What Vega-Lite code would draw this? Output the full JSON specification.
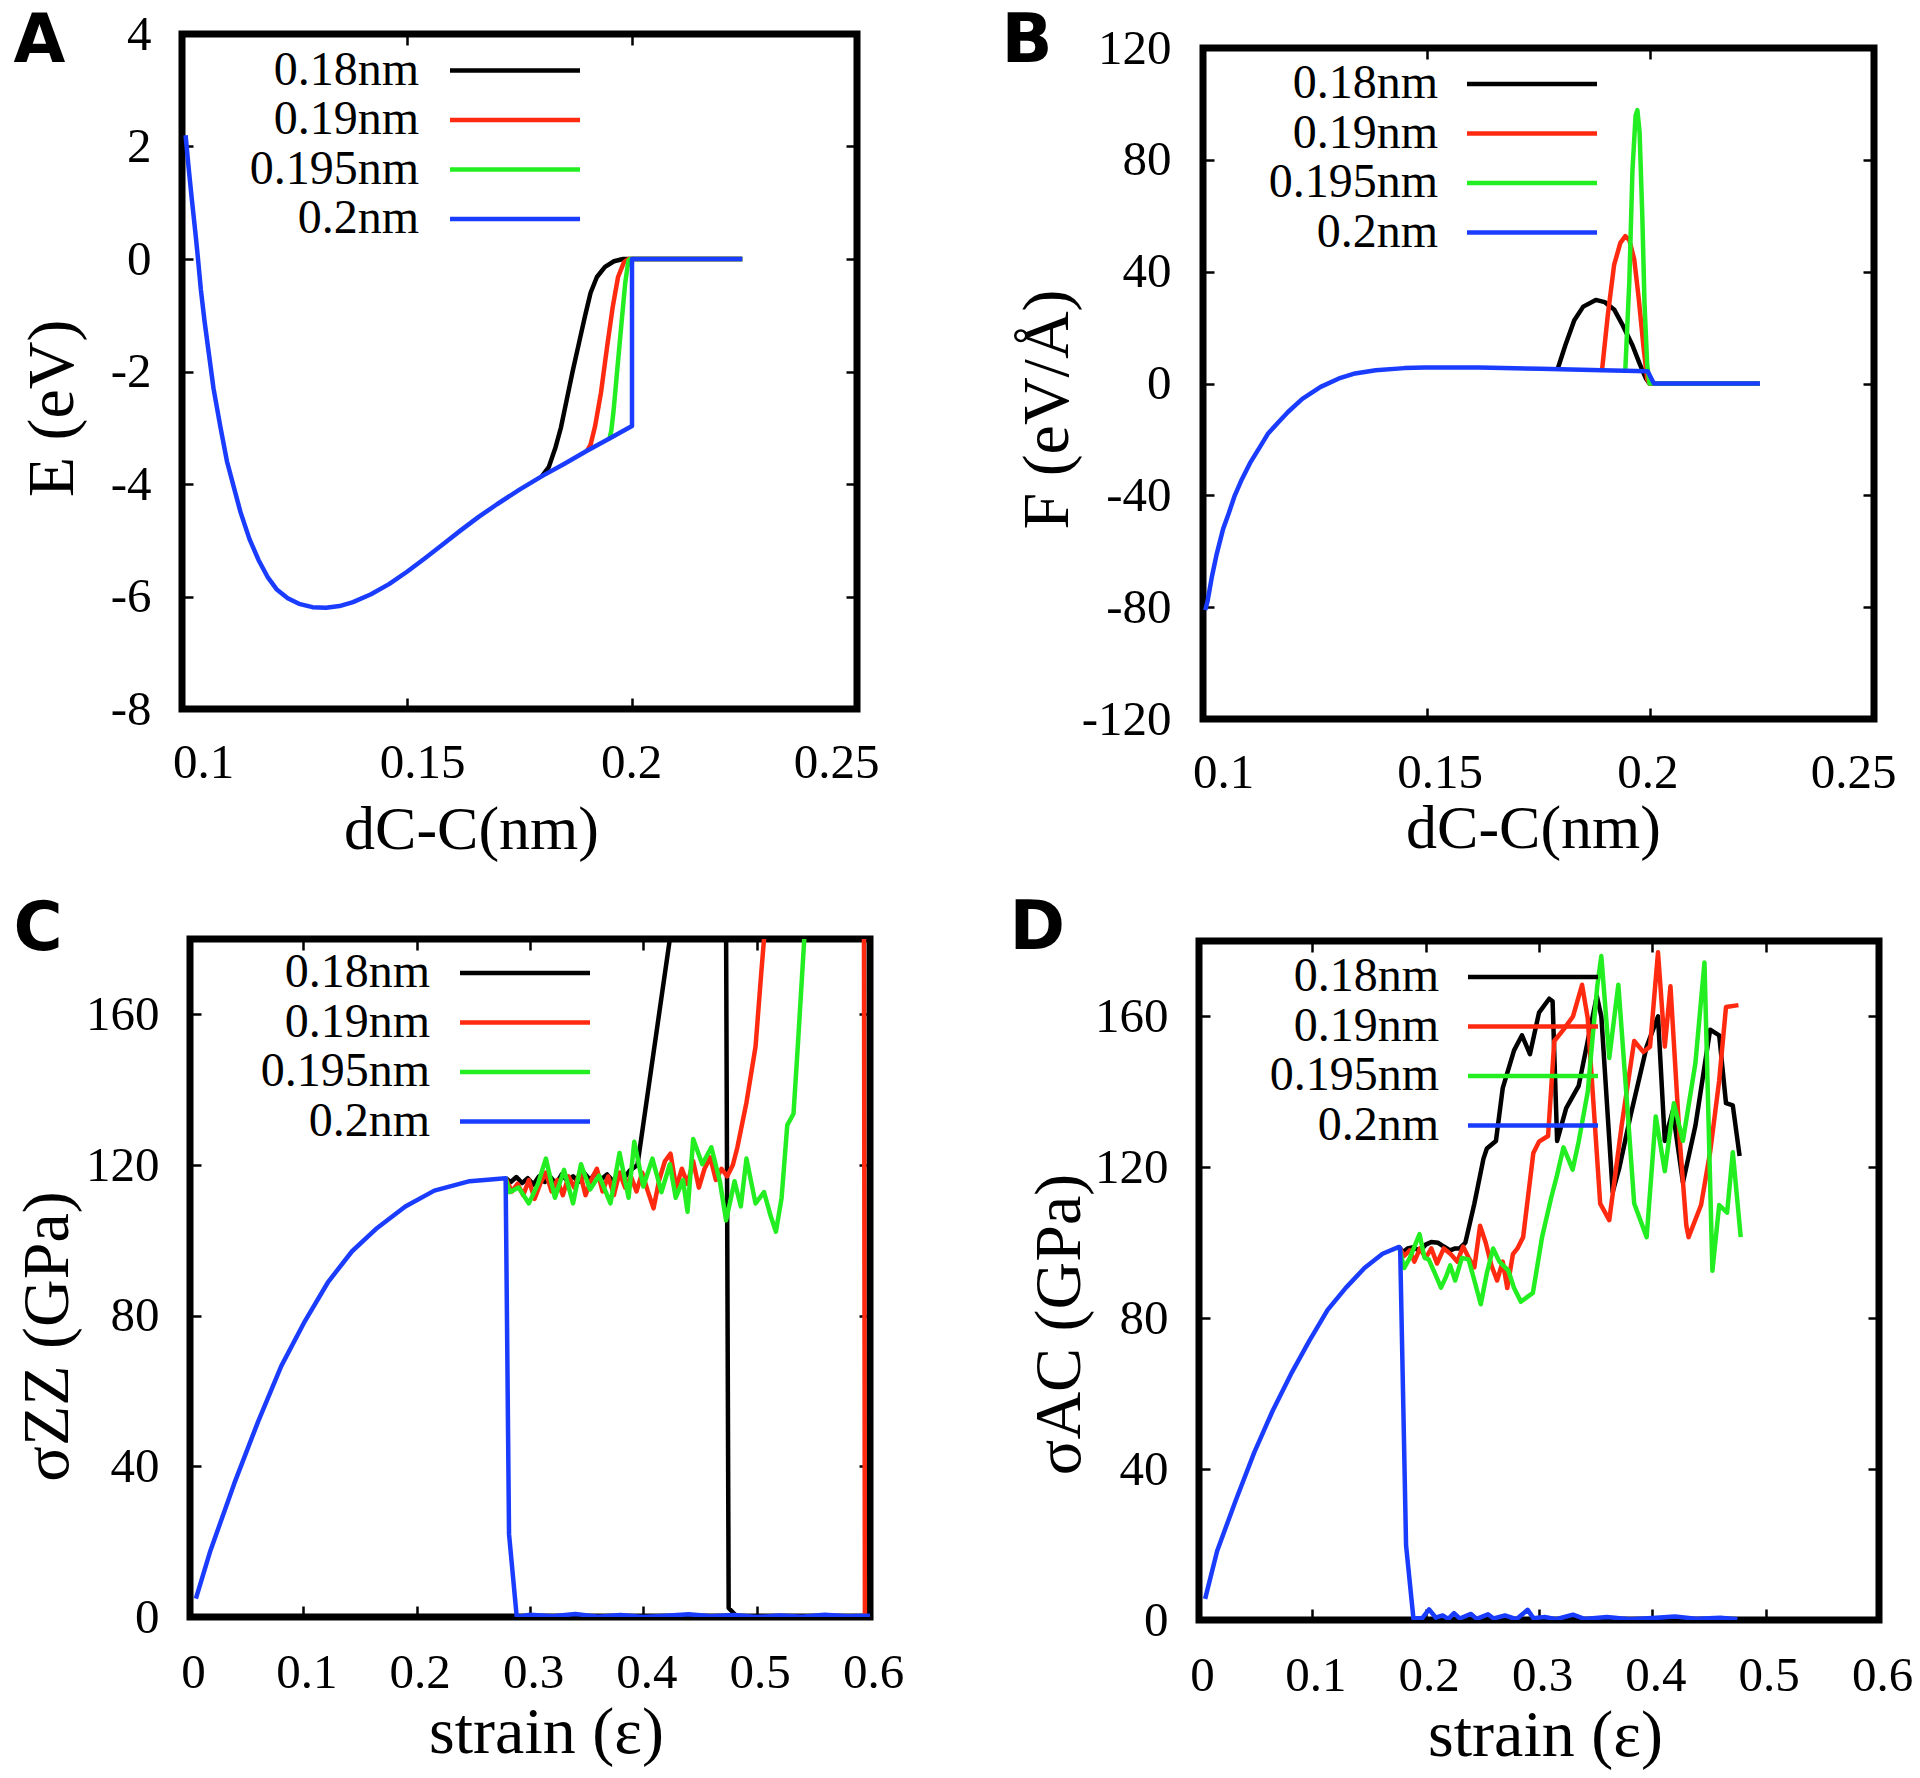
{
 "$schema": "https://vega.github.io/schema/vega-lite/v6.json",
 "background": "white",
 "padding": {"left": 0, "top": 0, "right": 2, "bottom": 2},
 "columns": 3,
 "align": "none",
 "bounds": "full",
 "spacing": {"row": 0, "column": 8},
 "resolve": {"scale": {"color": "independent"}, "legend": {"color": "independent"}},
 "config": {
  "view": {"stroke": "#000000", "strokeWidth": 7},
  "font": "Liberation Serif",
  "axis": {"domain": false, "grid": false, "ticks": true, "tickSize": -11, "tickWidth": 2.5, "tickColor": "#000000",
   "labelFont": "Liberation Serif", "labelFontSize": 49, "labelColor": "#000000", "labelFlush": false, "labelOverlap": false,
   "titleFont": "Liberation Serif", "titleFontSize": 66, "titleFontWeight": "normal", "titleColor": "#000000"},
  "legend": {"orient": "none", "labelFont": "Liberation Serif", "labelFontSize": 48, "labelColor": "#000000", "padding": 0},
  "line": {"strokeWidth": 4.5, "strokeJoin": "round"}
 },
 "concat": [
  {"data": {"values": []}, "mark": "point", "width": 1, "height": 1, "view": {"stroke": null}},
  {"data": {"values": []}, "mark": "point", "width": 1, "height": 1, "view": {"stroke": null}},
  {"data": {"values": []}, "mark": "point", "width": 1, "height": 1, "view": {"stroke": null}},
  {"data": {"values": []}, "mark": "point", "width": 1, "height": 1, "view": {"stroke": null}},
  {
   "width": 675, "height": 675,
   "resolve": {"axis": {"x": "independent", "y": "independent"}},
   "layer": [
    {
     "data": {"values": [
      {"s":"0.18nm","x":0.18,"y":-3.86},{"s":"0.18nm","x":0.1815,"y":-3.7},{"s":"0.18nm","x":0.183,"y":-3.35},{"s":"0.18nm","x":0.1842,"y":-3.0},{"s":"0.18nm","x":0.1855,"y":-2.5},{"s":"0.18nm","x":0.1868,"y":-2.0},{"s":"0.18nm","x":0.1882,"y":-1.5},{"s":"0.18nm","x":0.1896,"y":-1.0},{"s":"0.18nm","x":0.1908,"y":-0.6},{"s":"0.18nm","x":0.1922,"y":-0.32},{"s":"0.18nm","x":0.194,"y":-0.14},{"s":"0.18nm","x":0.196,"y":-0.04},{"s":"0.18nm","x":0.198,"y":0},{"s":"0.18nm","x":0.2,"y":0},{"s":"0.18nm","x":0.2245,"y":0},
      {"s":"0.19nm","x":0.19,"y":-3.41},{"s":"0.19nm","x":0.1908,"y":-3.3},{"s":"0.19nm","x":0.1918,"y":-2.97},{"s":"0.19nm","x":0.1931,"y":-2.38},{"s":"0.19nm","x":0.1944,"y":-1.6},{"s":"0.19nm","x":0.1957,"y":-0.86},{"s":"0.19nm","x":0.1969,"y":-0.32},{"s":"0.19nm","x":0.1982,"y":-0.06},{"s":"0.19nm","x":0.1992,"y":0},{"s":"0.19nm","x":0.2,"y":0},{"s":"0.19nm","x":0.2245,"y":0},
      {"s":"0.195nm","x":0.195,"y":-3.19},{"s":"0.195nm","x":0.1954,"y":-3.05},{"s":"0.195nm","x":0.1959,"y":-2.7},{"s":"0.195nm","x":0.1967,"y":-1.99},{"s":"0.195nm","x":0.1976,"y":-1.2},{"s":"0.195nm","x":0.1985,"y":-0.42},{"s":"0.195nm","x":0.1992,"y":-0.03},{"s":"0.195nm","x":0.1996,"y":0},{"s":"0.195nm","x":0.2,"y":0},{"s":"0.195nm","x":0.2245,"y":0},
      {"s":"0.2nm","x":0.1008,"y":2.2},{"s":"0.2nm","x":0.1015,"y":1.6},{"s":"0.2nm","x":0.1022,"y":1.05},{"s":"0.2nm","x":0.103,"y":0.45},{"s":"0.2nm","x":0.1035,"y":0.05},{"s":"0.2nm","x":0.1042,"y":-0.55},{"s":"0.2nm","x":0.105,"y":-1.1},{"s":"0.2nm","x":0.106,"y":-1.7},{"s":"0.2nm","x":0.107,"y":-2.3},{"s":"0.2nm","x":0.1085,"y":-2.97},{"s":"0.2nm","x":0.11,"y":-3.6},{"s":"0.2nm","x":0.1115,"y":-4.05},{"s":"0.2nm","x":0.113,"y":-4.5},{"s":"0.2nm","x":0.115,"y":-4.98},{"s":"0.2nm","x":0.117,"y":-5.35},{"s":"0.2nm","x":0.119,"y":-5.65},{"s":"0.2nm","x":0.121,"y":-5.87},{"s":"0.2nm","x":0.1235,"y":-6.03},{"s":"0.2nm","x":0.126,"y":-6.13},{"s":"0.2nm","x":0.129,"y":-6.19},{"s":"0.2nm","x":0.132,"y":-6.2},{"s":"0.2nm","x":0.135,"y":-6.17},{"s":"0.2nm","x":0.138,"y":-6.1},{"s":"0.2nm","x":0.142,"y":-5.96},{"s":"0.2nm","x":0.146,"y":-5.78},{"s":"0.2nm","x":0.15,"y":-5.56},{"s":"0.2nm","x":0.154,"y":-5.32},{"s":"0.2nm","x":0.158,"y":-5.07},{"s":"0.2nm","x":0.162,"y":-4.82},{"s":"0.2nm","x":0.166,"y":-4.58},{"s":"0.2nm","x":0.17,"y":-4.36},{"s":"0.2nm","x":0.175,"y":-4.1},{"s":"0.2nm","x":0.18,"y":-3.86},{"s":"0.2nm","x":0.185,"y":-3.64},{"s":"0.2nm","x":0.19,"y":-3.41},{"s":"0.2nm","x":0.195,"y":-3.19},{"s":"0.2nm","x":0.2,"y":-2.97},{"s":"0.2nm","x":0.2,"y":0},{"s":"0.2nm","x":0.2245,"y":0}
     ]},
     "encoding": {
      "x": {"field": "x", "type": "quantitative", "scale": {"domain": [0.1, 0.25], "nice": false, "zero": false},
       "axis": {"orient": "bottom", "values": [0.1, 0.15, 0.2, 0.25], "labelExpr": "'' + datum.value", "labelPadding": 40,
        "labelOffset": {"condition": [{"test": "datum.value < 0.12", "value": 21}, {"test": "datum.value < 0.17", "value": 15}, {"test": "datum.value < 0.22", "value": -1}], "value": -21},
        "title": "dC-C(nm)", "titleFontSize": 62, "titleX": 289, "titleY": 139, "titleAlign": "center", "titleBaseline": "alphabetic"}},
      "y": {"field": "y", "type": "quantitative", "scale": {"domain": [-8, 4], "nice": false, "zero": false},
       "axis": {"orient": "left", "values": [-8, -6, -4, -2, 0, 2, 4], "labelExpr": "'' + datum.value", "labelPadding": 42,
        "title": "E (eV)", "titleX": -130, "titleY": 374, "titleAngle": 270, "titleAlign": "center", "titleBaseline": "middle"}},
      "color": {"field": "s", "type": "nominal", "scale": {"domain": ["0.18nm", "0.19nm", "0.195nm", "0.2nm"], "range": ["#000000", "#ff2a10", "#22ee22", "#1a3cff"]},
       "legend": {"title": null, "legendX": 268, "legendY": 12.5, "symbolType": "M-13,0H13", "symbolSize": 100, "symbolStrokeWidth": 4.5, "symbolOffset": 41, "labelAlign": "right", "labelOffset": -120, "labelLimit": 400, "rowPadding": 1.5}},
      "order": {"value": null}
     },
     "layer": [
      {"transform": [{"filter": "datum.s == '0.18nm'"}], "mark": {"type": "line", "clip": true}},
      {"transform": [{"filter": "datum.s == '0.19nm'"}], "mark": {"type": "line", "clip": true}},
      {"transform": [{"filter": "datum.s == '0.195nm'"}], "mark": {"type": "line", "clip": true}},
      {"transform": [{"filter": "datum.s == '0.2nm'"}], "mark": {"type": "line", "clip": true}}
     ]
    },
    {
     "data": {"values": [{"x": 0.15, "y": 0}]},
     "mark": {"type": "point", "opacity": 0},
     "encoding": {
      "x": {"field": "x", "type": "quantitative", "scale": {"domain": [0.1, 0.25], "nice": false, "zero": false},
       "axis": {"orient": "top", "values": [0.1, 0.15, 0.2, 0.25], "labels": false, "title": "A", "titleX": -169, "titleY": 27.5, "titleAlign": "left", "titleBaseline": "alphabetic", "titleAngle": 0, "titleFont": "DejaVu Sans", "titleFontWeight": "bold", "titleFontSize": 67}},
      "y": {"field": "y", "type": "quantitative", "scale": {"domain": [-8, 4], "nice": false, "zero": false},
       "axis": {"orient": "right", "values": [-8, -6, -4, -2, 0, 2, 4], "labels": false, "title": " ", "titleX": 128, "titleY": -29, "titleAlign": "right", "titleBaseline": "top", "titleAngle": 0, "titleFontSize": 10}}
     }
    }
   ]
  },
  {
   "width": 671, "height": 671,
   "resolve": {"axis": {"x": "independent", "y": "independent"}},
   "layer": [
    {
     "data": {"values": [
      {"s":"0.18nm","x":0.1793,"y":5.3},{"s":"0.18nm","x":0.181,"y":13.7},{"s":"0.18nm","x":0.183,"y":22.6},{"s":"0.18nm","x":0.185,"y":27.5},{"s":"0.18nm","x":0.1878,"y":29.9},{"s":"0.18nm","x":0.1898,"y":29.1},{"s":"0.18nm","x":0.1919,"y":26.5},{"s":"0.18nm","x":0.1939,"y":20.6},{"s":"0.18nm","x":0.196,"y":13.7},{"s":"0.18nm","x":0.1976,"y":7.1},{"s":"0.18nm","x":0.199,"y":1.8},{"s":"0.18nm","x":0.1998,"y":0},{"s":"0.18nm","x":0.2245,"y":0},
      {"s":"0.19nm","x":0.1892,"y":4.75},{"s":"0.19nm","x":0.1905,"y":24.6},{"s":"0.19nm","x":0.1919,"y":42.4},{"s":"0.19nm","x":0.1933,"y":50.3},{"s":"0.19nm","x":0.1944,"y":52.7},{"s":"0.19nm","x":0.1953,"y":51.3},{"s":"0.19nm","x":0.1964,"y":44.4},{"s":"0.19nm","x":0.1974,"y":30.5},{"s":"0.19nm","x":0.1985,"y":12.7},{"s":"0.19nm","x":0.1993,"y":1.6},{"s":"0.19nm","x":0.1998,"y":0},{"s":"0.19nm","x":0.2245,"y":0},
      {"s":"0.195nm","x":0.1944,"y":4.6},{"s":"0.195nm","x":0.1953,"y":36.4},{"s":"0.195nm","x":0.196,"y":76},{"s":"0.195nm","x":0.1967,"y":95.8},{"s":"0.195nm","x":0.1971,"y":97.8},{"s":"0.195nm","x":0.1976,"y":89.9},{"s":"0.195nm","x":0.1982,"y":60.2},{"s":"0.195nm","x":0.1987,"y":28.5},{"s":"0.195nm","x":0.1993,"y":6.7},{"s":"0.195nm","x":0.1998,"y":0},{"s":"0.195nm","x":0.2245,"y":0},
      {"s":"0.2nm","x":0.1005,"y":-81},{"s":"0.2nm","x":0.101,"y":-78},{"s":"0.2nm","x":0.102,"y":-69},{"s":"0.2nm","x":0.103,"y":-61.4},{"s":"0.2nm","x":0.1045,"y":-52},{"s":"0.2nm","x":0.1057,"y":-46.7},{"s":"0.2nm","x":0.107,"y":-40.5},{"s":"0.2nm","x":0.1085,"y":-34.9},{"s":"0.2nm","x":0.1105,"y":-28.5},{"s":"0.2nm","x":0.1126,"y":-23},{"s":"0.2nm","x":0.1145,"y":-18},{"s":"0.2nm","x":0.1167,"y":-14.1},{"s":"0.2nm","x":0.119,"y":-10.2},{"s":"0.2nm","x":0.1222,"y":-5.5},{"s":"0.2nm","x":0.1263,"y":-1.2},{"s":"0.2nm","x":0.1304,"y":1.8},{"s":"0.2nm","x":0.134,"y":3.6},{"s":"0.2nm","x":0.1386,"y":4.75},{"s":"0.2nm","x":0.145,"y":5.5},{"s":"0.2nm","x":0.1495,"y":5.7},{"s":"0.2nm","x":0.1618,"y":5.7},{"s":"0.2nm","x":0.1755,"y":5.3},{"s":"0.2nm","x":0.1892,"y":4.75},{"s":"0.2nm","x":0.1994,"y":4.4},{"s":"0.2nm","x":0.2008,"y":0},{"s":"0.2nm","x":0.2245,"y":0}
     ]},
     "encoding": {
      "x": {"field": "x", "type": "quantitative", "scale": {"domain": [0.1, 0.25], "nice": false, "zero": false},
       "axis": {"orient": "bottom", "values": [0.1, 0.15, 0.2, 0.25], "labelExpr": "'' + datum.value", "labelPadding": 40,
        "labelOffset": {"condition": [{"test": "datum.value < 0.12", "value": 20}, {"test": "datum.value < 0.17", "value": 13}, {"test": "datum.value < 0.22", "value": -3}], "value": -21},
        "title": "dC-C(nm)", "titleFontSize": 62, "titleX": 330, "titleY": 128, "titleAlign": "center", "titleBaseline": "alphabetic"}},
      "y": {"field": "y", "type": "quantitative", "scale": {"domain": [-120, 120], "nice": false, "zero": false},
       "axis": {"orient": "left", "values": [-120, -80, -40, 0, 40, 80, 120], "labelExpr": "'' + datum.value", "labelPadding": 43,
        "title": "F (eV/Å)", "titleX": -156, "titleY": 361, "titleAngle": 270, "titleAlign": "center", "titleBaseline": "middle"}},
      "color": {"field": "s", "type": "nominal", "scale": {"domain": ["0.18nm", "0.19nm", "0.195nm", "0.2nm"], "range": ["#000000", "#ff2a10", "#22ee22", "#1a3cff"]},
       "legend": {"title": null, "legendX": 264, "legendY": 12, "symbolType": "M-13,0H13", "symbolSize": 100, "symbolStrokeWidth": 4.5, "symbolOffset": 41, "labelAlign": "right", "labelOffset": -118, "labelLimit": 400, "rowPadding": 1.5}},
      "order": {"value": null}
     },
     "layer": [
      {"transform": [{"filter": "datum.s == '0.18nm'"}], "mark": {"type": "line", "clip": true}},
      {"transform": [{"filter": "datum.s == '0.19nm'"}], "mark": {"type": "line", "clip": true}},
      {"transform": [{"filter": "datum.s == '0.195nm'"}], "mark": {"type": "line", "clip": true}},
      {"transform": [{"filter": "datum.s == '0.2nm'"}], "mark": {"type": "line", "clip": true}}
     ]
    },
    {
     "data": {"values": [{"x": 0.15, "y": 0}]},
     "mark": {"type": "point", "opacity": 0},
     "encoding": {
      "x": {"field": "x", "type": "quantitative", "scale": {"domain": [0.1, 0.25], "nice": false, "zero": false},
       "axis": {"orient": "top", "values": [0.1, 0.15, 0.2, 0.25], "labels": false, "title": "B", "titleX": -202, "titleY": 13.5, "titleAlign": "left", "titleBaseline": "alphabetic", "titleAngle": 0, "titleFont": "DejaVu Sans", "titleFontWeight": "bold", "titleFontSize": 67}},
      "y": {"field": "y", "type": "quantitative", "scale": {"domain": [-120, 120], "nice": false, "zero": false},
       "axis": {"orient": "right", "values": [-120, -80, -40, 0, 40, 80, 120], "labels": false, "title": " ", "titleX": 0, "titleY": -43, "titleAlign": "right", "titleBaseline": "top", "titleAngle": 0, "titleFontSize": 10}}
     }
    }
   ]
  },
  {"data": {"values": []}, "mark": "point", "width": 1, "height": 1, "view": {"stroke": null}},
  {
   "width": 680, "height": 678,
   "resolve": {"axis": {"x": "independent", "y": "independent"}},
   "layer": [
    {
     "data": {"values": [
      {"s":"0.18nm","x":0.2785,"y":116.5},{"s":"0.18nm","x":0.283,"y":115.5},{"s":"0.18nm","x":0.288,"y":116.8},{"s":"0.18nm","x":0.293,"y":115.2},{"s":"0.18nm","x":0.298,"y":116.5},{"s":"0.18nm","x":0.303,"y":114.8},{"s":"0.18nm","x":0.308,"y":117},{"s":"0.18nm","x":0.313,"y":115.5},{"s":"0.18nm","x":0.318,"y":116.8},{"s":"0.18nm","x":0.323,"y":115},{"s":"0.18nm","x":0.328,"y":117.5},{"s":"0.18nm","x":0.333,"y":115.8},{"s":"0.18nm","x":0.338,"y":117},{"s":"0.18nm","x":0.343,"y":115.5},{"s":"0.18nm","x":0.348,"y":117.8},{"s":"0.18nm","x":0.353,"y":116},{"s":"0.18nm","x":0.358,"y":118},{"s":"0.18nm","x":0.363,"y":116.2},{"s":"0.18nm","x":0.368,"y":117.5},{"s":"0.18nm","x":0.373,"y":115.8},{"s":"0.18nm","x":0.378,"y":117},{"s":"0.18nm","x":0.383,"y":116.5},{"s":"0.18nm","x":0.388,"y":118.5},{"s":"0.18nm","x":0.3948,"y":120},{"s":"0.18nm","x":0.4234,"y":180},{"s":"0.18nm","x":0.43,"y":194},{"s":"0.18nm","x":0.47,"y":215},{"s":"0.18nm","x":0.4728,"y":200},{"s":"0.18nm","x":0.4753,"y":2.4},{"s":"0.18nm","x":0.483,"y":0},{"s":"0.18nm","x":0.52,"y":0.2},{"s":"0.18nm","x":0.56,"y":0.1},{"s":"0.18nm","x":0.6,"y":0},
      {"s":"0.19nm","x":0.2785,"y":116.5},{"s":"0.19nm","x":0.284,"y":113},{"s":"0.19nm","x":0.289,"y":115},{"s":"0.19nm","x":0.294,"y":112},{"s":"0.19nm","x":0.299,"y":116},{"s":"0.19nm","x":0.304,"y":111},{"s":"0.19nm","x":0.309,"y":115},{"s":"0.19nm","x":0.314,"y":118},{"s":"0.19nm","x":0.319,"y":113},{"s":"0.19nm","x":0.324,"y":116},{"s":"0.19nm","x":0.329,"y":112},{"s":"0.19nm","x":0.334,"y":117},{"s":"0.19nm","x":0.339,"y":114},{"s":"0.19nm","x":0.344,"y":118},{"s":"0.19nm","x":0.349,"y":112},{"s":"0.19nm","x":0.354,"y":116},{"s":"0.19nm","x":0.359,"y":119},{"s":"0.19nm","x":0.364,"y":113},{"s":"0.19nm","x":0.369,"y":117},{"s":"0.19nm","x":0.374,"y":112},{"s":"0.19nm","x":0.379,"y":118},{"s":"0.19nm","x":0.384,"y":114},{"s":"0.19nm","x":0.389,"y":117},{"s":"0.19nm","x":0.394,"y":113},{"s":"0.19nm","x":0.399,"y":118},{"s":"0.19nm","x":0.404,"y":113},{"s":"0.19nm","x":0.409,"y":108.5},{"s":"0.19nm","x":0.414,"y":116},{"s":"0.19nm","x":0.419,"y":121},{"s":"0.19nm","x":0.424,"y":123},{"s":"0.19nm","x":0.429,"y":114},{"s":"0.19nm","x":0.434,"y":119},{"s":"0.19nm","x":0.439,"y":115},{"s":"0.19nm","x":0.444,"y":121},{"s":"0.19nm","x":0.449,"y":114},{"s":"0.19nm","x":0.454,"y":119},{"s":"0.19nm","x":0.459,"y":122},{"s":"0.19nm","x":0.464,"y":116},{"s":"0.19nm","x":0.469,"y":119},{"s":"0.19nm","x":0.474,"y":117},{"s":"0.19nm","x":0.479,"y":120},{"s":"0.19nm","x":0.483,"y":124.7},{"s":"0.19nm","x":0.491,"y":136.6},{"s":"0.19nm","x":0.499,"y":151.4},{"s":"0.19nm","x":0.504,"y":170.8},{"s":"0.19nm","x":0.5065,"y":180},{"s":"0.19nm","x":0.51,"y":190},{"s":"0.19nm","x":0.5945,"y":220},{"s":"0.19nm","x":0.5955,"y":0},{"s":"0.19nm","x":0.6,"y":0},
      {"s":"0.195nm","x":0.2785,"y":116.5},{"s":"0.195nm","x":0.282,"y":112.8},{"s":"0.195nm","x":0.29,"y":114},{"s":"0.195nm","x":0.299,"y":109.8},{"s":"0.195nm","x":0.307,"y":115},{"s":"0.195nm","x":0.314,"y":121.7},{"s":"0.195nm","x":0.322,"y":111.3},{"s":"0.195nm","x":0.33,"y":118.7},{"s":"0.195nm","x":0.338,"y":109.8},{"s":"0.195nm","x":0.345,"y":120.2},{"s":"0.195nm","x":0.353,"y":113.5},{"s":"0.195nm","x":0.361,"y":117.2},{"s":"0.195nm","x":0.371,"y":109.8},{"s":"0.195nm","x":0.379,"y":123.2},{"s":"0.195nm","x":0.387,"y":111.3},{"s":"0.195nm","x":0.392,"y":126.2},{"s":"0.195nm","x":0.4,"y":114.3},{"s":"0.195nm","x":0.408,"y":121.7},{"s":"0.195nm","x":0.416,"y":112.8},{"s":"0.195nm","x":0.4234,"y":120.2},{"s":"0.195nm","x":0.4286,"y":111.3},{"s":"0.195nm","x":0.435,"y":116},{"s":"0.195nm","x":0.439,"y":107.6},{"s":"0.195nm","x":0.444,"y":126.9},{"s":"0.195nm","x":0.452,"y":120.2},{"s":"0.195nm","x":0.46,"y":124.7},{"s":"0.195nm","x":0.4675,"y":115.7},{"s":"0.195nm","x":0.473,"y":105.3},{"s":"0.195nm","x":0.4805,"y":115.7},{"s":"0.195nm","x":0.486,"y":109},{"s":"0.195nm","x":0.491,"y":121.7},{"s":"0.195nm","x":0.499,"y":109.8},{"s":"0.195nm","x":0.5065,"y":112.8},{"s":"0.195nm","x":0.512,"y":106.8},{"s":"0.195nm","x":0.517,"y":102.3},{"s":"0.195nm","x":0.522,"y":111.3},{"s":"0.195nm","x":0.527,"y":130.6},{"s":"0.195nm","x":0.5325,"y":133.6},{"s":"0.195nm","x":0.5366,"y":153},{"s":"0.195nm","x":0.5418,"y":179},{"s":"0.195nm","x":0.545,"y":195},{"s":"0.195nm","x":0.56,"y":220},
      {"s":"0.2nm","x":0.0052,"y":4.9},{"s":"0.2nm","x":0.018,"y":17.6},{"s":"0.2nm","x":0.039,"y":35.4},{"s":"0.2nm","x":0.06,"y":51.8},{"s":"0.2nm","x":0.0805,"y":66.6},{"s":"0.2nm","x":0.1013,"y":78.5},{"s":"0.2nm","x":0.122,"y":89},{"s":"0.2nm","x":0.143,"y":97.1},{"s":"0.2nm","x":0.164,"y":103},{"s":"0.2nm","x":0.19,"y":109},{"s":"0.2nm","x":0.2156,"y":113.2},{"s":"0.2nm","x":0.2468,"y":115.7},{"s":"0.2nm","x":0.2785,"y":116.5},{"s":"0.2nm","x":0.2815,"y":22},{"s":"0.2nm","x":0.2883,"y":0},{"s":"0.2nm","x":0.3,"y":0.6},{"s":"0.2nm","x":0.32,"y":0.2},{"s":"0.2nm","x":0.34,"y":0.8},{"s":"0.2nm","x":0.36,"y":0.1},{"s":"0.2nm","x":0.38,"y":0.5},{"s":"0.2nm","x":0.4,"y":0},{"s":"0.2nm","x":0.42,"y":0.3},{"s":"0.2nm","x":0.44,"y":0.7},{"s":"0.2nm","x":0.46,"y":0.2},{"s":"0.2nm","x":0.48,"y":0.5},{"s":"0.2nm","x":0.5,"y":0},{"s":"0.2nm","x":0.52,"y":0.4},{"s":"0.2nm","x":0.54,"y":0.1},{"s":"0.2nm","x":0.56,"y":0.6},{"s":"0.2nm","x":0.58,"y":0.2},{"s":"0.2nm","x":0.6,"y":0.3}
     ]},
     "encoding": {
      "x": {"field": "x", "type": "quantitative", "scale": {"domain": [0, 0.6], "nice": false, "zero": false},
       "axis": {"orient": "bottom", "values": [0, 0.1, 0.2, 0.3, 0.4, 0.5, 0.6], "labelExpr": "'' + datum.value", "labelPadding": 42, "labelOffset": 3,
        "title": "strain (ε)", "titleX": 356, "titleY": 135, "titleAlign": "center", "titleBaseline": "alphabetic"}},
      "y": {"field": "y", "type": "quantitative", "scale": {"domain": [0, 180], "nice": false, "zero": false},
       "axis": {"orient": "left", "values": [0, 40, 80, 120, 160], "labelExpr": "'' + datum.value", "labelPadding": 42,
        "title": "σZZ (GPa)", "titleX": -143, "titleY": 397, "titleAngle": 270, "titleAlign": "center", "titleBaseline": "middle"}},
      "color": {"field": "s", "type": "nominal", "scale": {"domain": ["0.18nm", "0.19nm", "0.195nm", "0.2nm"], "range": ["#000000", "#ff2a10", "#22ee22", "#1a3cff"]},
       "legend": {"title": null, "legendX": 270, "legendY": 10, "symbolType": "M-13,0H13", "symbolSize": 100, "symbolStrokeWidth": 4.5, "symbolOffset": 41, "labelAlign": "right", "labelOffset": -119, "labelLimit": 400, "rowPadding": 1.5}},
      "order": {"value": null}
     },
     "layer": [
      {"transform": [{"filter": "datum.s == '0.18nm'"}], "mark": {"type": "line", "clip": true}},
      {"transform": [{"filter": "datum.s == '0.19nm'"}], "mark": {"type": "line", "clip": true}},
      {"transform": [{"filter": "datum.s == '0.195nm'"}], "mark": {"type": "line", "clip": true}},
      {"transform": [{"filter": "datum.s == '0.2nm'"}], "mark": {"type": "line", "clip": true}}
     ]
    },
    {
     "data": {"values": [{"x": 0.3, "y": 90}]},
     "mark": {"type": "point", "opacity": 0},
     "encoding": {
      "x": {"field": "x", "type": "quantitative", "scale": {"domain": [0, 0.6], "nice": false, "zero": false},
       "axis": {"orient": "top", "values": [0, 0.1, 0.2, 0.3, 0.4, 0.5, 0.6], "labels": false, "title": "C", "titleX": -177, "titleY": 10, "titleAlign": "left", "titleBaseline": "alphabetic", "titleAngle": 0, "titleFont": "DejaVu Sans", "titleFontWeight": "bold", "titleFontSize": 67}},
      "y": {"field": "y", "type": "quantitative", "scale": {"domain": [0, 180], "nice": false, "zero": false},
       "axis": {"orient": "right", "values": [0, 40, 80, 120, 160], "labels": false, "title": " ", "titleX": 0, "titleY": -71, "titleAlign": "right", "titleBaseline": "top", "titleAngle": 0, "titleFontSize": 10}}
     }
    }
   ]
  },
  {
   "width": 680, "height": 679,
   "resolve": {"axis": {"x": "independent", "y": "independent"}},
   "layer": [
    {
     "data": {"values": [
      {"s":"0.18nm","x":0.1765,"y":98.9},{"s":"0.18nm","x":0.18,"y":97.5},{"s":"0.18nm","x":0.184,"y":98.5},{"s":"0.18nm","x":0.189,"y":98.8},{"s":"0.18nm","x":0.195,"y":97.8},{"s":"0.18nm","x":0.2,"y":99.5},{"s":"0.18nm","x":0.205,"y":100.2},{"s":"0.18nm","x":0.211,"y":100},{"s":"0.18nm","x":0.216,"y":99},{"s":"0.18nm","x":0.2216,"y":98},{"s":"0.18nm","x":0.226,"y":98.5},{"s":"0.18nm","x":0.23,"y":98.5},{"s":"0.18nm","x":0.235,"y":100},{"s":"0.18nm","x":0.243,"y":110.4},{"s":"0.18nm","x":0.251,"y":122.3},{"s":"0.18nm","x":0.254,"y":125},{"s":"0.18nm","x":0.262,"y":127},{"s":"0.18nm","x":0.268,"y":141},{"s":"0.18nm","x":0.278,"y":151},{"s":"0.18nm","x":0.285,"y":155},{"s":"0.18nm","x":0.292,"y":150},{"s":"0.18nm","x":0.3,"y":161},{"s":"0.18nm","x":0.309,"y":164.7},{"s":"0.18nm","x":0.312,"y":164},{"s":"0.18nm","x":0.316,"y":127},{"s":"0.18nm","x":0.324,"y":135.7},{"s":"0.18nm","x":0.335,"y":141.6},{"s":"0.18nm","x":0.343,"y":153.5},{"s":"0.18nm","x":0.351,"y":165.4},{"s":"0.18nm","x":0.355,"y":160},{"s":"0.18nm","x":0.365,"y":113.4},{"s":"0.18nm","x":0.371,"y":120},{"s":"0.18nm","x":0.381,"y":134},{"s":"0.18nm","x":0.395,"y":152},{"s":"0.18nm","x":0.405,"y":160},{"s":"0.18nm","x":0.411,"y":127},{"s":"0.18nm","x":0.418,"y":135},{"s":"0.18nm","x":0.427,"y":116},{"s":"0.18nm","x":0.438,"y":131},{"s":"0.18nm","x":0.451,"y":156.5},{"s":"0.18nm","x":0.459,"y":155},{"s":"0.18nm","x":0.465,"y":137},{"s":"0.18nm","x":0.471,"y":136.4},{"s":"0.18nm","x":0.477,"y":123},
      {"s":"0.19nm","x":0.1765,"y":98.9},{"s":"0.19nm","x":0.181,"y":96.5},{"s":"0.19nm","x":0.186,"y":98},{"s":"0.19nm","x":0.19,"y":95},{"s":"0.19nm","x":0.195,"y":98.5},{"s":"0.19nm","x":0.2,"y":96},{"s":"0.19nm","x":0.205,"y":98.5},{"s":"0.19nm","x":0.21,"y":94.5},{"s":"0.19nm","x":0.216,"y":98.5},{"s":"0.19nm","x":0.222,"y":97},{"s":"0.19nm","x":0.228,"y":95},{"s":"0.19nm","x":0.233,"y":99},{"s":"0.19nm","x":0.238,"y":96},{"s":"0.19nm","x":0.243,"y":93.5},{"s":"0.19nm","x":0.248,"y":104.5},{"s":"0.19nm","x":0.253,"y":100},{"s":"0.19nm","x":0.258,"y":94},{"s":"0.19nm","x":0.263,"y":90},{"s":"0.19nm","x":0.268,"y":95},{"s":"0.19nm","x":0.272,"y":88},{"s":"0.19nm","x":0.277,"y":97},{"s":"0.19nm","x":0.281,"y":98.5},{"s":"0.19nm","x":0.286,"y":101.5},{"s":"0.19nm","x":0.295,"y":123.8},{"s":"0.19nm","x":0.3,"y":126.8},{"s":"0.19nm","x":0.308,"y":128.3},{"s":"0.19nm","x":0.3135,"y":153.5},{"s":"0.19nm","x":0.3216,"y":156.5},{"s":"0.19nm","x":0.33,"y":160},{"s":"0.19nm","x":0.338,"y":168.4},{"s":"0.19nm","x":0.343,"y":159.5},{"s":"0.19nm","x":0.354,"y":110.4},{"s":"0.19nm","x":0.362,"y":106},{"s":"0.19nm","x":0.373,"y":131.2},{"s":"0.19nm","x":0.384,"y":153.5},{"s":"0.19nm","x":0.392,"y":150.6},{"s":"0.19nm","x":0.398,"y":152},{"s":"0.19nm","x":0.405,"y":177},{"s":"0.19nm","x":0.411,"y":152},{"s":"0.19nm","x":0.416,"y":168},{"s":"0.19nm","x":0.424,"y":128},{"s":"0.19nm","x":0.43,"y":104.5},{"s":"0.19nm","x":0.432,"y":101.5},{"s":"0.19nm","x":0.443,"y":110},{"s":"0.19nm","x":0.451,"y":124},{"s":"0.19nm","x":0.459,"y":143},{"s":"0.19nm","x":0.465,"y":162.5},{"s":"0.19nm","x":0.476,"y":163},
      {"s":"0.195nm","x":0.1765,"y":98.9},{"s":"0.195nm","x":0.181,"y":93.3},{"s":"0.195nm","x":0.186,"y":96},{"s":"0.195nm","x":0.1946,"y":102.3},{"s":"0.195nm","x":0.199,"y":96},{"s":"0.195nm","x":0.2027,"y":95.6},{"s":"0.195nm","x":0.208,"y":92},{"s":"0.195nm","x":0.2135,"y":88.1},{"s":"0.195nm","x":0.218,"y":91},{"s":"0.195nm","x":0.2216,"y":94},{"s":"0.195nm","x":0.226,"y":90},{"s":"0.195nm","x":0.232,"y":96},{"s":"0.195nm","x":0.2378,"y":95.6},{"s":"0.195nm","x":0.243,"y":90},{"s":"0.195nm","x":0.2486,"y":83.7},{"s":"0.195nm","x":0.254,"y":92},{"s":"0.195nm","x":0.2595,"y":98.5},{"s":"0.195nm","x":0.265,"y":95},{"s":"0.195nm","x":0.273,"y":92.6},{"s":"0.195nm","x":0.278,"y":88},{"s":"0.195nm","x":0.284,"y":84.4},{"s":"0.195nm","x":0.2946,"y":86.7},{"s":"0.195nm","x":0.3027,"y":101.5},{"s":"0.195nm","x":0.3108,"y":112},{"s":"0.195nm","x":0.316,"y":118},{"s":"0.195nm","x":0.3216,"y":125.3},{"s":"0.195nm","x":0.3297,"y":119.4},{"s":"0.195nm","x":0.335,"y":126.8},{"s":"0.195nm","x":0.343,"y":140},{"s":"0.195nm","x":0.3514,"y":168},{"s":"0.195nm","x":0.355,"y":176},{"s":"0.195nm","x":0.362,"y":149},{"s":"0.195nm","x":0.37,"y":168.4},{"s":"0.195nm","x":0.378,"y":135.7},{"s":"0.195nm","x":0.384,"y":110.4},{"s":"0.195nm","x":0.395,"y":101.5},{"s":"0.195nm","x":0.403,"y":133.5},{"s":"0.195nm","x":0.411,"y":119},{"s":"0.195nm","x":0.419,"y":137},{"s":"0.195nm","x":0.427,"y":127},{"s":"0.195nm","x":0.438,"y":147.6},{"s":"0.195nm","x":0.446,"y":174.3},{"s":"0.195nm","x":0.453,"y":92.6},{"s":"0.195nm","x":0.459,"y":110},{"s":"0.195nm","x":0.466,"y":108},{"s":"0.195nm","x":0.471,"y":124},{"s":"0.195nm","x":0.478,"y":101.5},
      {"s":"0.2nm","x":0.0054,"y":5.6},{"s":"0.2nm","x":0.016,"y":18.3},{"s":"0.2nm","x":0.0324,"y":31.7},{"s":"0.2nm","x":0.0486,"y":44.3},{"s":"0.2nm","x":0.0649,"y":55.4},{"s":"0.2nm","x":0.081,"y":65.1},{"s":"0.2nm","x":0.0973,"y":74},{"s":"0.2nm","x":0.1135,"y":82.2},{"s":"0.2nm","x":0.1297,"y":88.1},{"s":"0.2nm","x":0.146,"y":93.3},{"s":"0.2nm","x":0.162,"y":97.1},{"s":"0.2nm","x":0.1765,"y":98.9},{"s":"0.2nm","x":0.1775,"y":98.5},{"s":"0.2nm","x":0.1827,"y":19.8},{"s":"0.2nm","x":0.1892,"y":0.4},{"s":"0.2nm","x":0.197,"y":0.5},{"s":"0.2nm","x":0.203,"y":2.8},{"s":"0.2nm","x":0.209,"y":0.6},{"s":"0.2nm","x":0.215,"y":1.2},{"s":"0.2nm","x":0.22,"y":0.3},{"s":"0.2nm","x":0.225,"y":1.8},{"s":"0.2nm","x":0.23,"y":0.4},{"s":"0.2nm","x":0.24,"y":1.6},{"s":"0.2nm","x":0.245,"y":0.3},{"s":"0.2nm","x":0.255,"y":1.5},{"s":"0.2nm","x":0.26,"y":0.4},{"s":"0.2nm","x":0.27,"y":1.2},{"s":"0.2nm","x":0.28,"y":0.2},{"s":"0.2nm","x":0.29,"y":2.7},{"s":"0.2nm","x":0.295,"y":0.5},{"s":"0.2nm","x":0.305,"y":0.8},{"s":"0.2nm","x":0.315,"y":0.2},{"s":"0.2nm","x":0.33,"y":1.4},{"s":"0.2nm","x":0.34,"y":0.3},{"s":"0.2nm","x":0.36,"y":0.8},{"s":"0.2nm","x":0.38,"y":0.2},{"s":"0.2nm","x":0.4,"y":0.5},{"s":"0.2nm","x":0.42,"y":0.9},{"s":"0.2nm","x":0.44,"y":0.3},{"s":"0.2nm","x":0.46,"y":0.6},{"s":"0.2nm","x":0.475,"y":0.2}
     ]},
     "encoding": {
      "x": {"field": "x", "type": "quantitative", "scale": {"domain": [0, 0.6], "nice": false, "zero": false},
       "axis": {"orient": "bottom", "values": [0, 0.1, 0.2, 0.3, 0.4, 0.5, 0.6], "labelExpr": "'' + datum.value", "labelPadding": 42, "labelOffset": 3,
        "title": "strain (ε)", "titleX": 346, "titleY": 135, "titleAlign": "center", "titleBaseline": "alphabetic"}},
      "y": {"field": "y", "type": "quantitative", "scale": {"domain": [0, 180], "nice": false, "zero": false},
       "axis": {"orient": "left", "values": [0, 40, 80, 120, 160], "labelExpr": "'' + datum.value", "labelPadding": 42,
        "title": "σAC (GPa)", "titleX": -140, "titleY": 383, "titleAngle": 270, "titleAlign": "center", "titleBaseline": "middle"}},
      "color": {"field": "s", "type": "nominal", "scale": {"domain": ["0.18nm", "0.19nm", "0.195nm", "0.2nm"], "range": ["#000000", "#ff2a10", "#22ee22", "#1a3cff"]},
       "legend": {"title": null, "legendX": 269, "legendY": 12, "symbolType": "M-13,0H13", "symbolSize": 100, "symbolStrokeWidth": 4.5, "symbolOffset": 41, "labelAlign": "right", "labelOffset": -118, "labelLimit": 400, "rowPadding": 1.5}},
      "order": {"value": null}
     },
     "layer": [
      {"transform": [{"filter": "datum.s == '0.18nm'"}], "mark": {"type": "line", "clip": true}},
      {"transform": [{"filter": "datum.s == '0.19nm'"}], "mark": {"type": "line", "clip": true}},
      {"transform": [{"filter": "datum.s == '0.195nm'"}], "mark": {"type": "line", "clip": true}},
      {"transform": [{"filter": "datum.s == '0.2nm'"}], "mark": {"type": "line", "clip": true}}
     ]
    },
    {
     "data": {"values": [{"x": 0.3, "y": 90}]},
     "mark": {"type": "point", "opacity": 0},
     "encoding": {
      "x": {"field": "x", "type": "quantitative", "scale": {"domain": [0, 0.6], "nice": false, "zero": false},
       "axis": {"orient": "top", "values": [0, 0.1, 0.2, 0.3, 0.4, 0.5, 0.6], "labels": false, "title": "D", "titleX": -190, "titleY": 7, "titleAlign": "left", "titleBaseline": "alphabetic", "titleAngle": 0, "titleFont": "DejaVu Sans", "titleFontWeight": "bold", "titleFontSize": 67}},
      "y": {"field": "y", "type": "quantitative", "scale": {"domain": [0, 180], "nice": false, "zero": false},
       "axis": {"orient": "right", "values": [0, 40, 80, 120, 160], "labels": false, "title": " ", "titleX": 0, "titleY": -59, "titleAlign": "right", "titleBaseline": "top", "titleAngle": 0, "titleFontSize": 10}}
     }
    }
   ]
  }
 ]
}
